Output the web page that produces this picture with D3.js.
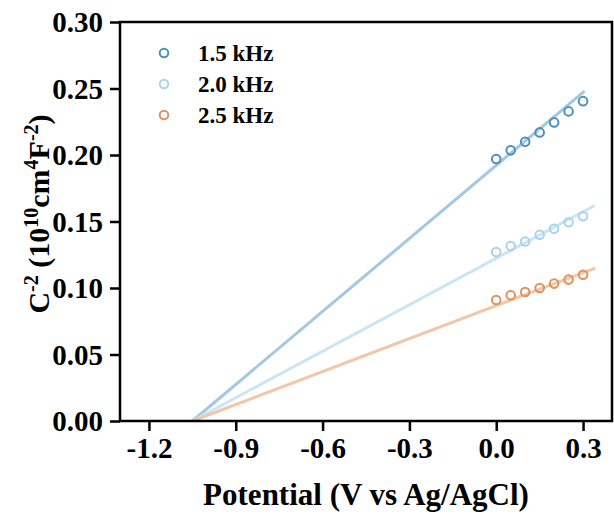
<!DOCTYPE html>
<html>
<head>
<meta charset="utf-8">
<script src="https://cdn.jsdelivr.net/npm/d3@7"></script>
<style>
  body { margin: 0; background: #fff; }
  svg { display: block; }
  text { font-family: "Liberation Serif", "Times New Roman", serif; font-weight: bold; }
</style>
</head>
<body>
<svg id="chart"></svg>
<script>
(function () {
  'use strict';

  // data
  var potential = [0.00, 0.05, 0.10, 0.15, 0.20, 0.25, 0.30];
  var freqs = ['1.5 kHz', '2.0 kHz', '2.5 kHz'];
  var c2_15 = [0.197, 0.2035, 0.210, 0.217, 0.2245, 0.2328, 0.2405];
  var c2_20 = [0.127, 0.1315, 0.135, 0.140, 0.1445, 0.1494, 0.154];
  var c2_25 = [0.091, 0.0945, 0.097, 0.100, 0.1033, 0.1063, 0.110];
  // fitted lines: start / end potential and value
  var fitX = [[-1.05, 0.305], [-1.05, 0.34], [-1.05, 0.342]];
  var fitY = [[0, 0.248], [0, 0.162], [0, 0.115]];
  var xTicks = [-1.2, -0.9, -0.6, -0.3, 0.0, 0.3];
  var yTicks = [0, 0.05, 0.10, 0.15, 0.20, 0.25, 0.30];

  var dotColors = ['#4d8fc0', '#a9d3ec', '#df915e'];
  var lineColors = ['#a3c8e2', '#cbe5f5', '#f2c6a6'];

  var W = 614, H = 515;
  var m = { left: 120, right: 2, top: 22, bottom: 94 };

  var svg = d3.select('#chart').attr('width', W).attr('height', H);

  var x = d3.scaleLinear().domain([-1.3, 0.4]).range([m.left, W - m.right]);
  var y = d3.scaleLinear().domain([0, 0.3]).range([H - m.bottom, m.top]);

  var series = [c2_15, c2_20, c2_25];

  // fit lines
  var line = d3.line().x(function (d) { return x(d[0]); }).y(function (d) { return y(d[1]); });
  svg.selectAll('path.fit')
      .data(series)
      .enter()
      .append('path')
      .attr('class', 'fit')
      .attr('d', function (d, i) {
        return line([[fitX[i][0], fitY[i][0]], [fitX[i][1], fitY[i][1]]]);
      })
      .attr('fill', 'none')
      .attr('stroke', function (d, i) { return lineColors[i]; })
      .attr('stroke-width', 3);

  // points
  series.forEach(function (vals, i) {
    svg.append('g').selectAll('circle')
        .data(vals)
        .enter()
        .append('circle')
        .attr('cx', function (d, j) { return x(potential[j]); })
        .attr('cy', function (d) { return y(d); })
        .attr('r', 4.3)
        .attr('fill', 'none')
        .attr('stroke', dotColors[i])
        .attr('stroke-width', 2);
  });

  // axes
  var xAxis = svg.append('g')
      .attr('transform', 'translate(0,' + (H - m.bottom) + ')')
      .call(d3.axisBottom(x).tickValues(xTicks).tickFormat(d3.format('.1f')).tickSize(10).tickSizeOuter(0));
  var yAxis = svg.append('g')
      .attr('transform', 'translate(' + m.left + ',0)')
      .call(d3.axisLeft(y).tickValues(yTicks).tickFormat(d3.format('.2f')).tickSize(10).tickSizeOuter(0));

  [xAxis, yAxis].forEach(function (a) {
    a.select('.domain').remove();
    a.selectAll('line').attr('stroke', '#000').attr('stroke-width', 2.5);
    a.selectAll('text').attr('fill', '#000').style('font-size', '29px');
  });
  xAxis.selectAll('text').attr('dy', '0.82em').text(function (d) {
    return d3.format('.1f')(d).replace('\u2212', '-');
  });
  yAxis.selectAll('text').attr('x', -17).attr('dy', '0.34em');

  // frame
  svg.append('rect')
      .attr('x', m.left).attr('y', m.top)
      .attr('width', W - m.right - m.left).attr('height', H - m.bottom - m.top)
      .attr('fill', 'none').attr('stroke', '#000').attr('stroke-width', 2.5);

  // axis titles
  svg.append('text')
      .attr('x', (m.left + W - m.right) / 2)
      .attr('y', 505)
      .attr('text-anchor', 'middle')
      .style('font-size', '31px')
      .text('Potential (V vs Ag/AgCl)');

  var yl = svg.append('text')
      .attr('transform', 'translate(49,214) rotate(-90)')
      .attr('text-anchor', 'middle')
      .style('font-size', '30px');
  yl.append('tspan').text('C');
  yl.append('tspan').attr('dy', -11).style('font-size', '20px').text('-2');
  yl.append('tspan').attr('dy', 11).text(' (10');
  yl.append('tspan').attr('dy', -11).style('font-size', '20px').text('10');
  yl.append('tspan').attr('dy', 11).text('cm');
  yl.append('tspan').attr('dy', -11).style('font-size', '20px').text('4');
  yl.append('tspan').attr('dy', 11).text('F');
  yl.append('tspan').attr('dy', -11).style('font-size', '20px').text('-2');
  yl.append('tspan').attr('dy', 11).text(')');

  // legend
  var leg = svg.append('g').selectAll('g')
      .data(freqs)
      .enter()
      .append('g')
      .attr('transform', function (d, i) { return 'translate(164,' + (53 + i * 31) + ')'; });
  leg.append('circle')
      .attr('r', 4.3)
      .attr('fill', 'none')
      .attr('stroke', function (d, i) { return dotColors[i]; })
      .attr('stroke-width', 2);
  leg.append('text')
      .attr('x', 34)
      .attr('dy', '0.35em')
      .style('font-size', '23px')
      .text(function (d) { return d; });
} ());
</script>
</body>
</html>
